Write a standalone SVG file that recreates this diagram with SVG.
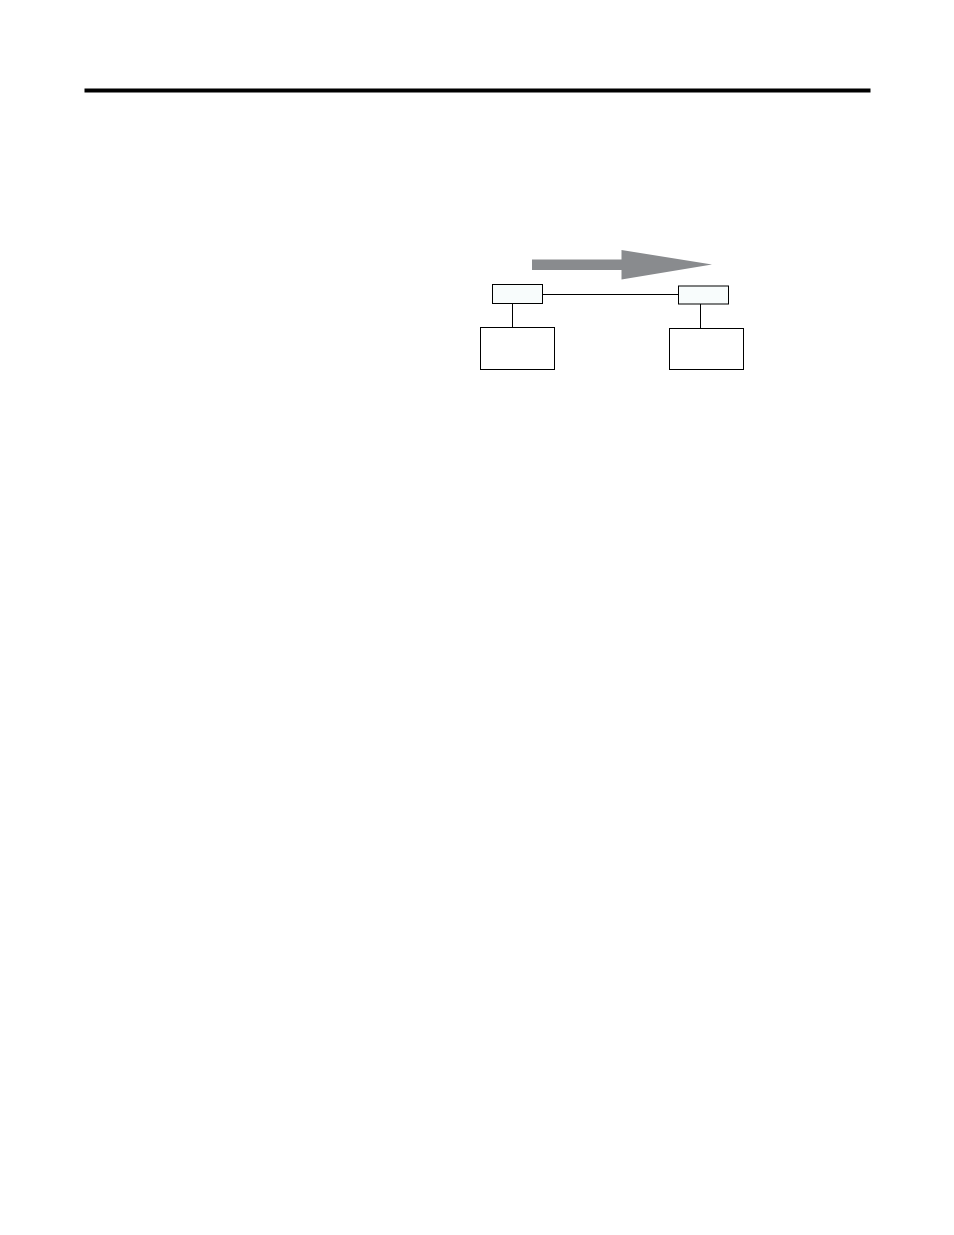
<svg xmlns="http://www.w3.org/2000/svg" width="954" height="1235" viewBox="0 0 954 1235">
<style>
.box{fill:#ffffff;stroke:#000000;stroke-width:1}
.small{fill:#f8fcfc;stroke:#000000;stroke-width:1}
.conn{stroke:#000000;stroke-width:1;fill:none}
</style>
<rect width="954" height="1235" fill="#ffffff"/>
<rect id="header-rule" x="84.5" y="88.5" width="786" height="4" fill="#000000"/>
<polygon id="flow-arrow" points="532,259.5 621.5,259.5 621.5,250 712,264.5 621.5,279.5 621.5,270 532,270" fill="#898b8e"/>
<g id="connectors">
<line class="conn" x1="542.5" y1="294.5" x2="678.5" y2="294.5"/>
<line class="conn" x1="512.5" y1="303.5" x2="512.5" y2="327.5"/>
<line class="conn" x1="700.5" y1="304" x2="700.5" y2="328.5"/>
</g>
<g id="node-left-small"><rect class="small" x="492.5" y="284.5" width="50" height="19"/></g>
<g id="node-right-small"><rect class="small" x="678.5" y="286" width="50" height="18"/></g>
<g id="node-left-big"><rect class="box" x="480.5" y="327.5" width="74" height="42"/></g>
<g id="node-right-big"><rect class="box" x="669.5" y="328.5" width="74" height="41"/></g>
</svg>
